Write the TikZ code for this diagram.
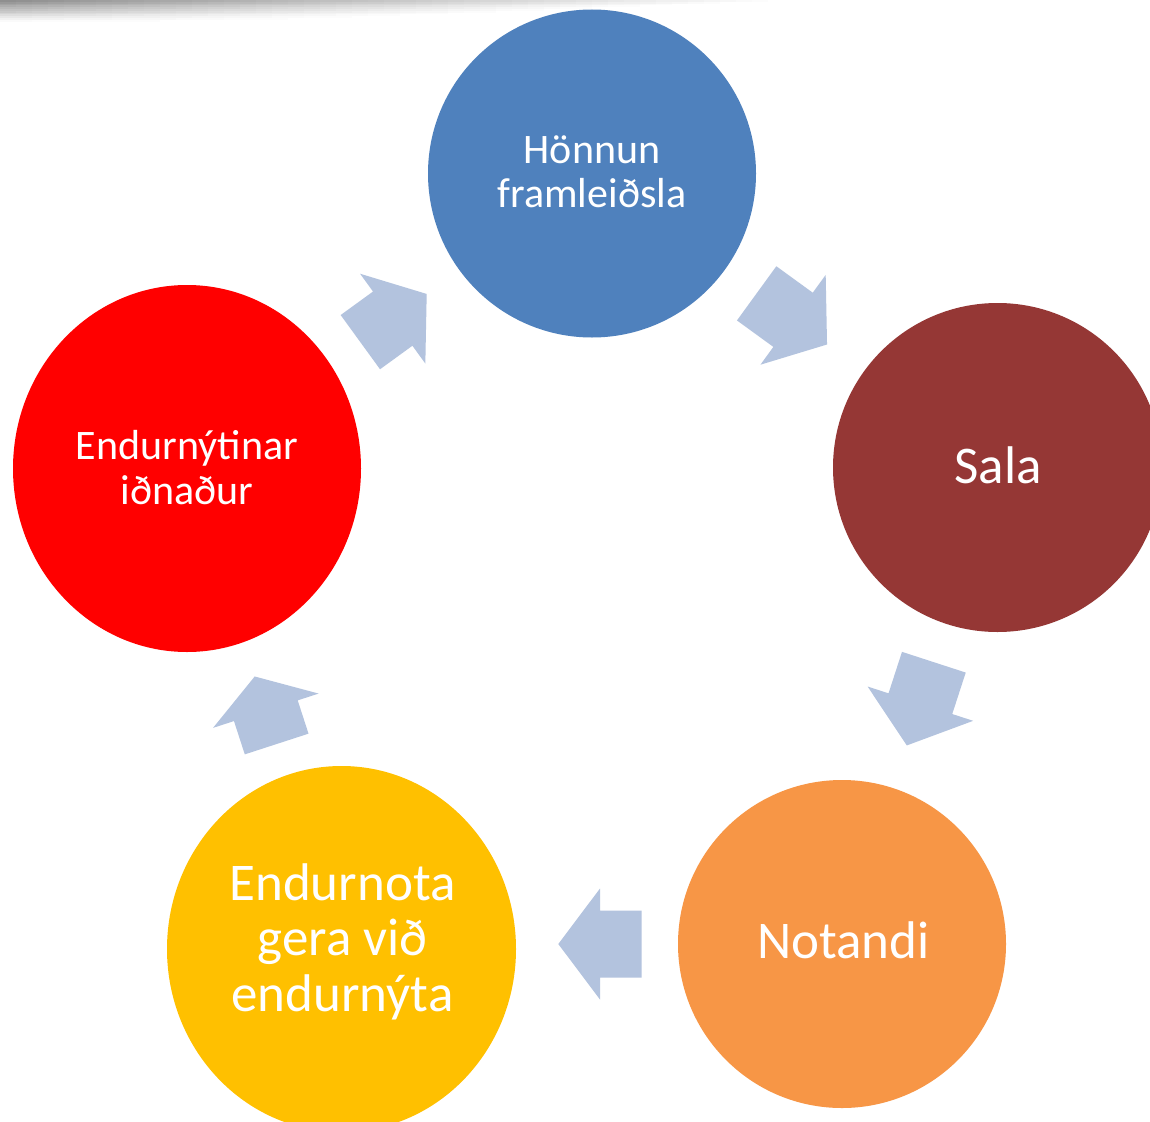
\documentclass[tikz,border=0pt]{standalone}
\usepackage{fontspec}
\setmainfont{Carlito}
\usetikzlibrary{shapes.geometric}
\definecolor{cblue}{HTML}{4F81BD}
\definecolor{csala}{HTML}{953735}
\definecolor{corange}{HTML}{F79646}
\definecolor{cyellow}{HTML}{FFC000}
\definecolor{cred}{HTML}{FF0000}
\definecolor{arrowblue}{RGB}{179,195,222}
\tikzset{
  disc/.style={circle, inner sep=0pt, minimum size=#1},
  oval/.style 2 args={ellipse, inner sep=0pt, minimum width=#1, minimum height=#2},
  lbl/.style={text=white, inner sep=0pt, anchor=base},
  pics/cyarrow/.style 2 args={code={
    \fill[arrowblue] (0,-33.5) -- (#1,-33.5) -- (#1,-55.5) -- (#1+#2,0)
      -- (#1,55.5) -- (#1,33.5) -- (0,33.5) -- cycle;
  }}
}
\newcommand{\smallfont}[1]{\fontsize{42}{#1}\selectfont}
\newcommand{\bigfont}[1]{\fontsize{53}{#1}\selectfont}
\begin{document}
\begin{tikzpicture}[x=1pt,y=-1pt]
\useasboundingbox (0,0) rectangle (1150,1121);
\clip (0,0) rectangle (1150,1121);
\fill[white] (0,0) rectangle (1150,1121);
% top shadow band, drawn as a grid of solid tones
\foreach \k in {0,...,11}{
  \foreach \x in {0,16,...,784}{
    \pgfmathtruncatemacro{\shd}{max(0,(44-3.8*\k)*(1-\x/(780-45*\k)))}
    \ifnum\shd>0
      \fill[black!\shd] (\x,{1.8*\k}) rectangle ({\x+16.4},{1.8*\k+1.9});
    \fi
  }
}

% circles
\node[disc=328pt, fill=cblue] (hon) at (592,173.5) {};
\node[disc=329pt, fill=csala] (sal) at (997.5,467.5) {};
\node[disc=328pt, fill=corange] (not) at (842,944) {};
\node[oval={349pt}{366pt}, fill=cyellow] (end) at (341.5,949) {};
\node[oval={348pt}{367pt}, fill=cred] (ein) at (187,468.5) {};

% labels
\node[lbl, font=\smallfont{44.5}] (thon) at (592,163.3)
  {\begin{tabular}[t]{@{}c@{}}Hönnun\\framleiðsla\end{tabular}};
\node[lbl, font=\bigfont{55}] (tsal) at (998,483) {Sala};
\node[lbl, font=\bigfont{55}] (tnot) at (843.5,958) {Notandi};
\node[lbl, font=\bigfont{55.5}] (tend) at (342.5,900)
  {\begin{tabular}[t]{@{}c@{}}Endurnota\\gera við\\endurnýta\end{tabular}};
\node[lbl, font=\smallfont{44.7}] (tein) at (187,459.3)
  {\begin{tabular}[t]{@{}c@{}}Endurnýtinar\\iðnaður\end{tabular}};

% cycle arrows
\pic[rotate=36]   at (360.35,342.15) {cyarrow={40}{42}};
\pic[rotate=-36]  at (756.65,293.35) {cyarrow={45}{42}};
\pic[rotate=-108] at (933.85,662.2)  {cyarrow={43.6}{43.9}};
\pic[rotate=180]  at (641.7,944)     {cyarrow={41.7}{41.7}};
\pic[rotate=108]  at (276.65,744)    {cyarrow={35}{36}};
\end{tikzpicture}
\end{document}
